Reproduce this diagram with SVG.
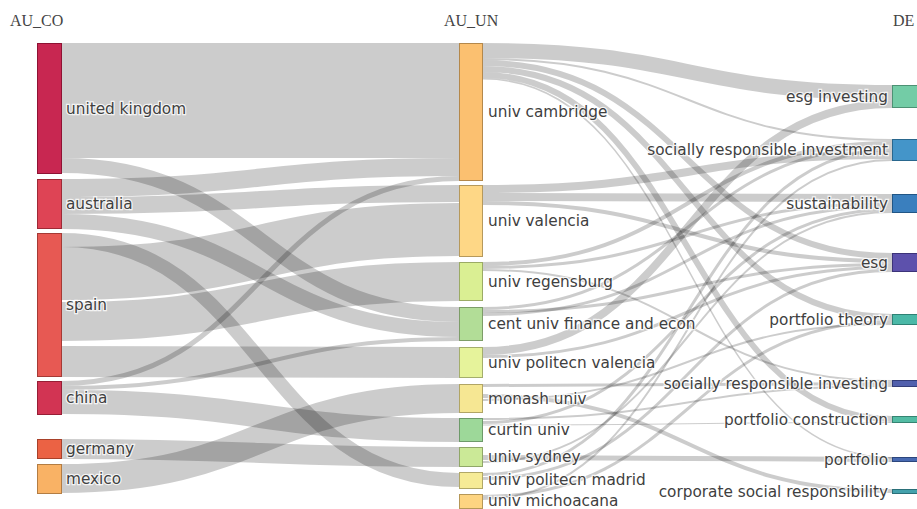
<svg xmlns="http://www.w3.org/2000/svg" width="917" height="509" viewBox="0 0 917 509">
<style>
.bg{fill:#fff}
.link{fill:none;stroke:#000;stroke-opacity:0.2}
.node rect{stroke-width:1;fill-opacity:0.95}
.lbl{font-family:"DejaVu Sans",Verdana,sans-serif;font-size:15.3px;fill:#404040;stroke:#fff;stroke-width:2.5px;stroke-opacity:0.8;paint-order:stroke}
.hdr{font-family:"Liberation Serif","Times New Roman",serif;font-size:16px;fill:#444}
</style>
<rect class="bg" x="0" y="0" width="917" height="509"/>
<g id="headers">
<text class="hdr" x="10" y="26">AU_CO</text>
<text class="hdr" x="444" y="26">AU_UN</text>
<text class="hdr" x="893" y="26">DE</text>
</g>
<g id="links">
<path class="link" stroke-width="115" d="M62,100.5C260.5,100.5 260.5,100.5 459,100.5"/>
<path class="link" stroke-width="15" d="M62,165.5C260.5,165.5 260.5,314.5 459,314.5"/>
<path class="link" stroke-width="18" d="M62,188C260.5,188 260.5,167 459,167"/>
<path class="link" stroke-width="5" d="M62,383.5C260.5,383.5 260.5,178.5 459,178.5"/>
<path class="link" stroke-width="17" d="M62,205.5C260.5,205.5 260.5,193.5 459,193.5"/>
<path class="link" stroke-width="15" d="M62,221.5C260.5,221.5 260.5,329.5 459,329.5"/>
<path class="link" stroke-width="4" d="M62,388C260.5,388 260.5,339 459,339"/>
<path class="link" stroke-width="14" d="M62,240C260.5,240 260.5,480 459,480"/>
<path class="link" stroke-width="53" d="M62,273.5C260.5,273.5 260.5,229.5 459,229.5"/>
<path class="link" stroke-width="39" d="M62,321.5C260.5,321.5 260.5,281.5 459,281.5"/>
<path class="link" stroke-width="31" d="M62,361.5C260.5,361.5 260.5,362.5 459,362.5"/>
<path class="link" stroke-width="24" d="M62,402C260.5,402 260.5,430 459,430"/>
<path class="link" stroke-width="20" d="M62,449C260.5,449 260.5,457 459,457"/>
<path class="link" stroke-width="29" d="M62,478.5C260.5,478.5 260.5,398.5 459,398.5"/>

<path class="link" stroke-width="15" d="M483,50.5C687.5,50.5 687.5,92.5 892,92.5"/>
<path class="link" stroke-width="2" d="M483,59C687.5,59 687.5,140 892,140"/>
<path class="link" stroke-width="6" d="M483,63C687.5,63 687.5,256 892,256"/>
<path class="link" stroke-width="6" d="M483,69C687.5,69 687.5,317 892,317"/>
<path class="link" stroke-width="6" d="M483,75C687.5,75 687.5,419 892,419"/>
<path class="link" stroke-width="1.5" d="M483,78.8C687.5,78.8 687.5,457.8 892,457.8"/>
<path class="link" stroke-width="8" d="M483,189C687.5,189 687.5,155 892,155"/>
<path class="link" stroke-width="8" d="M483,197C687.5,197 687.5,198 892,198"/>
<path class="link" stroke-width="4" d="M483,203C687.5,203 687.5,261 892,261"/>
<path class="link" stroke-width="4" d="M483,264C687.5,264 687.5,143 892,143"/>
<path class="link" stroke-width="3" d="M483,267.5C687.5,267.5 687.5,203.5 892,203.5"/>
<path class="link" stroke-width="2" d="M483,270C687.5,270 687.5,381 892,381"/>
<path class="link" stroke-width="3" d="M483,308.5C687.5,308.5 687.5,146.5 892,146.5"/>
<path class="link" stroke-width="3" d="M483,311.5C687.5,311.5 687.5,264.5 892,264.5"/>
<path class="link" stroke-width="3" d="M483,314.5C687.5,314.5 687.5,206.5 892,206.5"/>
<path class="link" stroke-width="8" d="M483,351C687.5,351 687.5,104 892,104"/>
<path class="link" stroke-width="3" d="M483,356.5C687.5,356.5 687.5,267.5 892,267.5"/>
<path class="link" stroke-width="3" d="M483,385.5C687.5,385.5 687.5,383.5 892,383.5"/>
<path class="link" stroke-width="4" d="M483,396C687.5,396 687.5,491 892,491"/>
<path class="link" stroke-width="2" d="M483,400C687.5,400 687.5,324 892,324"/>
<path class="link" stroke-width="2" d="M483,419C687.5,419 687.5,386 892,386"/>
<path class="link" stroke-width="3" d="M483,422.5C687.5,422.5 687.5,209.5 892,209.5"/>
<path class="link" stroke-width="1" d="M483,425C687.5,425 687.5,422.5 892,422.5"/>
<path class="link" stroke-width="5" d="M483,457.5C687.5,457.5 687.5,459.5 892,459.5"/>
<path class="link" stroke-width="2" d="M483,462C687.5,462 687.5,212 892,212"/>
<path class="link" stroke-width="3" d="M483,474.5C687.5,474.5 687.5,149.5 892,149.5"/>
<path class="link" stroke-width="3" d="M483,478.5C687.5,478.5 687.5,270.5 892,270.5"/>
<path class="link" stroke-width="3" d="M483,496.5C687.5,496.5 687.5,321.5 892,321.5"/>
<path class="link" stroke-width="2" d="M483,499C687.5,499 687.5,160 892,160"/>
</g>

<g id="n-uk" class="node"><rect x="37.5" y="43.5" width="24" height="130" fill="#c51b48" stroke="#8e1233"/><text class="lbl" x="66" y="108.5" dy="0.35em">united kingdom</text></g>
<g id="n-australia" class="node"><rect x="37.5" y="179.5" width="24" height="49" fill="#dc3a4c" stroke="#9e2936"/><text class="lbl" x="66" y="204" dy="0.35em">australia</text></g>
<g id="n-spain" class="node"><rect x="37.5" y="233.5" width="24" height="143" fill="#e6504a" stroke="#a53a35"/><text class="lbl" x="66" y="305" dy="0.35em">spain</text></g>
<g id="n-china" class="node"><rect x="37.5" y="381.5" width="24" height="33" fill="#d0294a" stroke="#961e35"/><text class="lbl" x="66" y="398" dy="0.35em">china</text></g>
<g id="n-germany" class="node"><rect x="37.5" y="439.5" width="24" height="19" fill="#ea5a3a" stroke="#a8412a"/><text class="lbl" x="66" y="449" dy="0.35em">germany</text></g>
<g id="n-mexico" class="node"><rect x="37.5" y="464.5" width="24" height="29" fill="#f9ae5d" stroke="#b37d43"/><text class="lbl" x="66" y="479" dy="0.35em">mexico</text></g>

<g id="n-cambridge" class="node"><rect x="459.5" y="43.5" width="23" height="137" fill="#fbbd68" stroke="#b4884b"/><text class="lbl" x="488" y="112" dy="0.35em">univ cambridge</text></g>
<g id="n-valencia" class="node"><rect x="459.5" y="185.5" width="23" height="71" fill="#fed580" stroke="#b6995c"/><text class="lbl" x="488" y="221" dy="0.35em">univ valencia</text></g>
<g id="n-regensburg" class="node"><rect x="459.5" y="262.5" width="23" height="38" fill="#d8ee8d" stroke="#9bab65"/><text class="lbl" x="488" y="281.5" dy="0.35em">univ regensburg</text></g>
<g id="n-cent" class="node"><rect x="459.5" y="307.5" width="23" height="33" fill="#aedb91" stroke="#7d9d68"/><text class="lbl" x="488" y="324" dy="0.35em">cent univ finance and econ</text></g>
<g id="n-polval" class="node"><rect x="459.5" y="347.5" width="23" height="30" fill="#e5f296" stroke="#a4ae6c"/><text class="lbl" x="488" y="362.5" dy="0.35em">univ politecn valencia</text></g>
<g id="n-monash" class="node"><rect x="459.5" y="384.5" width="23" height="28" fill="#f6e68d" stroke="#b1a565"/><text class="lbl" x="488" y="398.5" dy="0.35em">monash univ</text></g>
<g id="n-curtin" class="node"><rect x="459.5" y="418.5" width="23" height="23" fill="#98d694" stroke="#6d9a6a"/><text class="lbl" x="488" y="430" dy="0.35em">curtin univ</text></g>
<g id="n-sydney" class="node"><rect x="459.5" y="447.5" width="23" height="19" fill="#c8e891" stroke="#90a768"/><text class="lbl" x="488" y="457" dy="0.35em">univ sydney</text></g>
<g id="n-madrid" class="node"><rect x="459.5" y="472.5" width="23" height="16" fill="#f6ea90" stroke="#b1a867"/><text class="lbl" x="488" y="480" dy="0.35em">univ politecn madrid</text></g>
<g id="n-michoacana" class="node"><rect x="459.5" y="494.5" width="23" height="14" fill="#fdd27a" stroke="#b69757"/><text class="lbl" x="488" y="501" dy="0.35em">univ michoacana</text></g>

<g id="n-esginvesting" class="node"><rect x="892.5" y="85.5" width="25" height="22" fill="#6bc9a1" stroke="#4d9174"/><text class="lbl" x="888" y="96.5" dy="0.35em" text-anchor="end">esg investing</text></g>
<g id="n-sri" class="node"><rect x="892.5" y="139.5" width="25" height="21" fill="#3a8fc6" stroke="#29678e"/><text class="lbl" x="888" y="150" dy="0.35em" text-anchor="end">socially responsible investment</text></g>
<g id="n-sustainability" class="node"><rect x="892.5" y="194.5" width="25" height="18" fill="#2f78bb" stroke="#215686"/><text class="lbl" x="888" y="203.5" dy="0.35em" text-anchor="end">sustainability</text></g>
<g id="n-esg" class="node"><rect x="892.5" y="253.5" width="25" height="18" fill="#5448a8" stroke="#3c3379"/><text class="lbl" x="888" y="262.5" dy="0.35em" text-anchor="end">esg</text></g>
<g id="n-ptheory" class="node"><rect x="892.5" y="314.5" width="25" height="10" fill="#40b4a2" stroke="#2e8174"/><text class="lbl" x="888" y="319.5" dy="0.35em" text-anchor="end">portfolio theory</text></g>
<g id="n-srinvesting" class="node"><rect x="892.5" y="380.5" width="25" height="6" fill="#4857a9" stroke="#343e79"/><text class="lbl" x="888" y="383.5" dy="0.35em" text-anchor="end">socially responsible investing</text></g>
<g id="n-pconstruction" class="node"><rect x="892.5" y="416.5" width="25" height="6" fill="#4ab89f" stroke="#358472"/><text class="lbl" x="888" y="419.5" dy="0.35em" text-anchor="end">portfolio construction</text></g>
<g id="n-portfolio" class="node"><rect x="892.5" y="457.5" width="25" height="4" fill="#3e62ae" stroke="#2c467d"/><text class="lbl" x="888" y="459.5" dy="0.35em" text-anchor="end">portfolio</text></g>
<g id="n-csr" class="node"><rect x="892.5" y="489.5" width="25" height="4" fill="#3a9ca8" stroke="#2a7079"/><text class="lbl" x="888" y="491.5" dy="0.35em" text-anchor="end">corporate social responsibility</text></g>
</svg>
